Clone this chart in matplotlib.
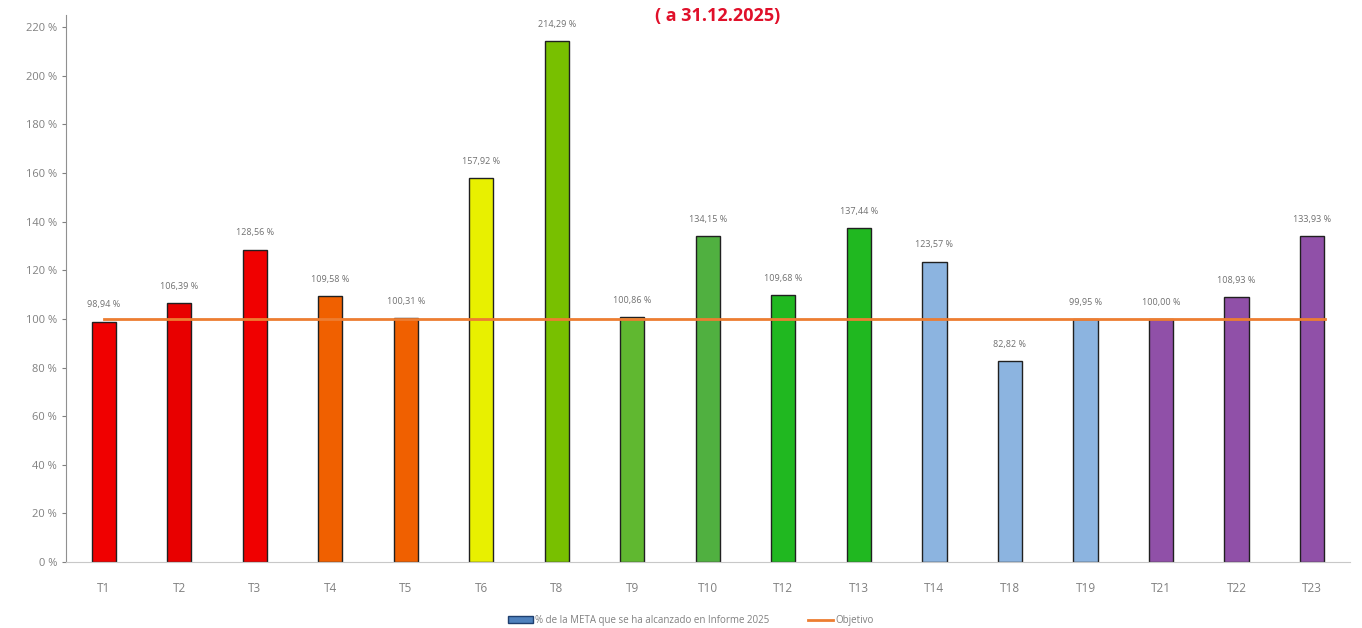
import matplotlib
matplotlib.use("Agg")
from matplotlib import pyplot as plt
from matplotlib.lines import Line2D
from matplotlib.patches import Patch

categories = ["T1", "T2", "T3", "T4", "T5", "T6", "T8", "T9", "T10",
              "T12", "T13", "T14", "T18", "T19", "T21", "T22", "T23"]
values = [98.94, 106.39, 128.56, 109.58, 100.31, 157.92, 214.29, 100.86,
          134.15, 109.68, 137.44, 123.57, 82.82, 99.95, 100.00, 108.93, 133.93]
objective = [100] * len(categories)
bar_colors = ["#f00000", "#e80000", "#f00000", "#f06000", "#f06000",
              "#e8f000", "#78c000", "#60b830", "#50b040", "#20b820", "#20b820",
              "#8cb4e0", "#8cb4e0", "#8cb4e0", "#9050a8", "#9050a8", "#9050a8"]

plt.rcParams['font.family'] = ['Open Sans', 'DejaVu Sans']

fig = plt.figure(figsize=(13.62, 6.28), dpi=100)
ax = fig.add_axes([0.0485, 0.105, 0.9425, 0.871])

xs = list(range(len(categories)))
ax.bar(xs, values, width=0.32, color=bar_colors, edgecolor="#202020", linewidth=1.0, zorder=2)
ax.plot([x for x in xs[:-1]] + [xs[-1] + 0.17], objective, color="#ed7d31", linewidth=2.0, zorder=3)

for x, v in zip(xs, values):
    lbl = ("%.2f" % v).replace(".", ",") + " %"
    ax.text(x, v + 5, lbl, ha="center", va="bottom", fontsize=6.5, color="#707070", zorder=4)

ax.set_xlim(-0.5, len(categories) - 0.5)
ax.set_ylim(0, 225)
ax.set_yticks(range(0, 221, 20))
ax.set_yticklabels(["%d %%" % t for t in range(0, 221, 20)])
ax.set_xticks(xs)
ax.set_xticklabels(categories)
ax.tick_params(axis="y", colors="#808080", labelsize=8, length=3, direction="out")
ax.tick_params(axis="x", colors="#808080", labelsize=8.5, length=0, pad=14)
for s in ["top", "right"]:
    ax.spines[s].set_visible(False)
ax.spines["left"].set_color("#909090")
ax.spines["bottom"].set_color("#c8c8c8")

fig.text(0.527, 0.975, "( a 31.12.2025)", ha="center", va="center",
         fontsize=13, fontweight="bold", color="#e0102a")

handles = [Patch(facecolor="#4f81bd", edgecolor="#1f3f6f"),
           Line2D([0], [0], color="#ed7d31", linewidth=2)]
fig.legend(handles, ["% de la META que se ha alcanzado en Informe 2025", "Objetivo"],
           loc="center", bbox_to_anchor=(0.507, 0.012), ncol=2, frameon=False,
           fontsize=7, labelcolor="#808080", handlelength=2.6, handletextpad=0.2,
           columnspacing=4)

fig.savefig("out.png", dpi=100)
